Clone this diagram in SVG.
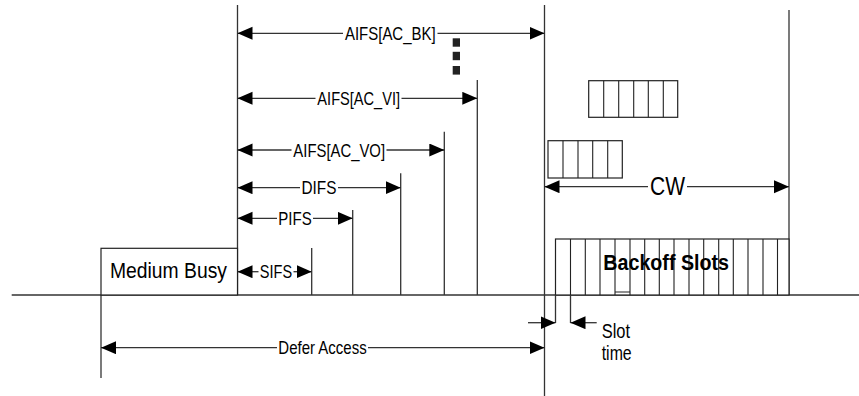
<svg xmlns="http://www.w3.org/2000/svg" width="859" height="396" viewBox="0 0 859 396">
<style>
.ln{stroke:#333;stroke-width:1.3;fill:none}
.bx{stroke:#222;stroke-width:1.2;fill:#fff}
.dv{stroke:#222;stroke-width:1.1;fill:none}
.t{font-family:"Liberation Sans",Arial,sans-serif;fill:#000}
.lb{font-size:18.5px;text-anchor:middle}
.ar{stroke:#333;stroke-width:1.3;fill:none;marker-end:url(#ah)}
.ar2{stroke:#333;stroke-width:1.3;fill:none;marker-start:url(#ahs);marker-end:url(#ah)}
</style>
<defs>
<marker id="ah" markerUnits="userSpaceOnUse" markerWidth="16" markerHeight="14" refX="15" refY="6.5" orient="auto">
<path d="M0,0 L15,6.5 L0,13 z" fill="#000"/>
</marker>
<marker id="ahs" markerUnits="userSpaceOnUse" markerWidth="16" markerHeight="14" refX="0" refY="6.5" orient="auto">
<path d="M15,0 L0,6.5 L15,13 z" fill="#000"/>
</marker>
</defs>
<rect width="859" height="396" fill="#fff"/>

<g id="timeline">
<line class="ln" x1="11.7" y1="295" x2="859" y2="295"/>
<line class="ln" x1="237.5" y1="5" x2="237.5" y2="295"/>
<line class="ln" x1="544.5" y1="5" x2="544.5" y2="396"/>
<line class="ln" x1="789" y1="10" x2="789" y2="295"/>
<line class="ln" x1="101" y1="295" x2="101" y2="378"/>
<line class="ln" x1="311.7" y1="248" x2="311.7" y2="295"/>
<line class="ln" x1="352.7" y1="210" x2="352.7" y2="295"/>
<line class="ln" x1="400.7" y1="173.3" x2="400.7" y2="295"/>
<line class="ln" x1="444.3" y1="131.7" x2="444.3" y2="295"/>
<line class="ln" x1="477.3" y1="80" x2="477.3" y2="295"/>
</g>

<g id="medium-busy">
<rect class="bx" x="101" y="248.3" width="136.5" height="46.7"/>
<text class="t" x="110" y="277.7" font-size="22" textLength="117" lengthAdjust="spacingAndGlyphs">Medium Busy</text>
</g>

<g id="backoff-slots">
<rect class="bx" x="555.5" y="239" width="233.5" height="56"/>
<path class="dv" d="M570.5,239V295M585.3,239V295M600,239V295M615,239V295M630,239V295M644.7,239V295M659.3,239V295M674,239V295M689,239V295M703.7,239V295M718.7,239V295M733.3,239V295M748,239V295M763,239V295M777.5,239V295M615,292H630"/>
<line class="ln" x1="555.5" y1="295" x2="555.5" y2="323"/>
<line class="ln" x1="570.5" y1="295" x2="570.5" y2="323"/>
<text class="t" x="603.3" y="270" font-size="22" font-weight="bold" textLength="125.7" lengthAdjust="spacingAndGlyphs">Backoff Slots</text>
</g>

<g id="slots-upper">
<rect class="bx" x="588.7" y="80.7" width="89" height="36.6"/>
<path class="dv" d="M603.7,80.7V117.3M618.7,80.7V117.3M633.7,80.7V117.3M648.3,80.7V117.3M663.3,80.7V117.3"/>
</g>

<g id="slots-lower">
<rect class="bx" x="548" y="140.7" width="74.3" height="37.3"/>
<path class="dv" d="M563,140.7V178M578,140.7V178M592.7,140.7V178M607.7,140.7V178"/>
</g>

<g id="ellipsis">
<rect x="452.7" y="38.3" width="7.3" height="8.4" fill="#222"/>
<rect x="452.7" y="51.8" width="7.3" height="8.4" fill="#222"/>
<rect x="452.7" y="66" width="7.3" height="8.6" fill="#222"/>
</g>

<g id="connectors">
<line class="ar" x1="343" y1="33.3" x2="237.5" y2="33.3"/>
<line class="ar" x1="437.5" y1="33.3" x2="544.5" y2="33.3"/>
<line class="ar" x1="315.5" y1="98.3" x2="237.5" y2="98.3"/>
<line class="ar" x1="401.5" y1="98.3" x2="477.3" y2="98.3"/>
<line class="ar" x1="291.5" y1="150" x2="237.5" y2="150"/>
<line class="ar" x1="386.5" y1="150" x2="444.3" y2="150"/>
<line class="ar" x1="300" y1="187.7" x2="237.5" y2="187.7"/>
<line class="ar" x1="338" y1="187.7" x2="400.7" y2="187.7"/>
<line class="ar" x1="277" y1="218.3" x2="237.5" y2="218.3"/>
<line class="ar" x1="313" y1="218.3" x2="352.7" y2="218.3"/>
<line class="ar" x1="258.5" y1="271.7" x2="237.5" y2="271.7"/>
<line class="ar" x1="293.5" y1="271.7" x2="311.7" y2="271.7"/>
<line class="ar" x1="277" y1="347.7" x2="101" y2="347.7"/>
<line class="ar" x1="368" y1="347.7" x2="544.5" y2="347.7"/>
<line class="ar" x1="648" y1="186.7" x2="544.5" y2="186.7"/>
<line class="ar" x1="687" y1="186.7" x2="789" y2="186.7"/>
<line class="ar" x1="528" y1="322.7" x2="555.5" y2="322.7"/>
<line class="ar" x1="596.7" y1="322.7" x2="570.5" y2="322.7"/>
</g>

<g id="labels">
<text class="t lb" x="390.3" y="40" textLength="90.7" lengthAdjust="spacingAndGlyphs">AIFS[AC_BK]</text>
<text class="t lb" x="358.7" y="105" textLength="82.7" lengthAdjust="spacingAndGlyphs">AIFS[AC_VI]</text>
<text class="t lb" x="339.2" y="156.7" textLength="91.7" lengthAdjust="spacingAndGlyphs">AIFS[AC_VO]</text>
<text class="t lb" x="319" y="194.2" textLength="35" lengthAdjust="spacingAndGlyphs">DIFS</text>
<text class="t lb" x="295" y="224.8" textLength="33.4" lengthAdjust="spacingAndGlyphs">PIFS</text>
<text class="t lb" x="276" y="278.2" textLength="32.3" lengthAdjust="spacingAndGlyphs">SIFS</text>
<text class="t lb" x="322.5" y="354.2" textLength="88.3" lengthAdjust="spacingAndGlyphs">Defer Access</text>
<text class="t" x="667.5" y="195" font-size="25" text-anchor="middle" textLength="35" lengthAdjust="spacingAndGlyphs">CW</text>
<text class="t" x="601.7" y="338.3" font-size="20" textLength="28.3" lengthAdjust="spacingAndGlyphs">Slot</text>
<text class="t" x="601.7" y="360" font-size="20" textLength="30" lengthAdjust="spacingAndGlyphs">time</text>
</g>
</svg>
